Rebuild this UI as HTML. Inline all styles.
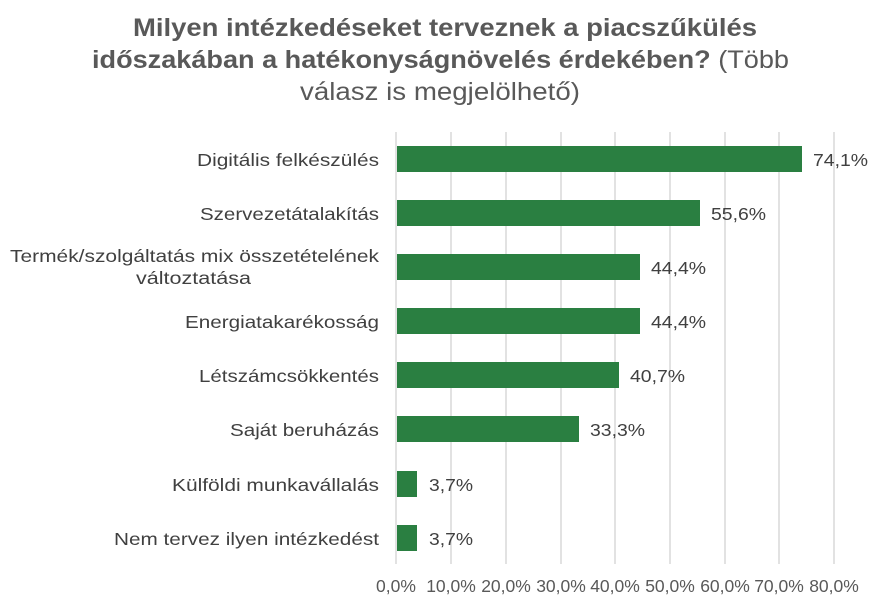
<!DOCTYPE html>
<html><head><meta charset="utf-8"><style>
body{margin:0;background:#fff;}
</style></head><body>
<svg width="879" height="605" xmlns="http://www.w3.org/2000/svg" font-family="Liberation Sans, Arial, sans-serif">
<rect width="879" height="605" fill="#fff"/>
<g font-size="25" fill="#595959">
<text x="133" y="36" font-weight="bold" textLength="624" lengthAdjust="spacingAndGlyphs">Milyen intézkedéseket terveznek a piacszűkülés</text>
<text x="92" y="68" textLength="697" lengthAdjust="spacingAndGlyphs"><tspan font-weight="bold">időszakában a hatékonyságnövelés érdekében?</tspan> (Több</text>
<text x="300" y="100" textLength="280" lengthAdjust="spacingAndGlyphs">válasz is megjelölhető)</text>
</g>
<g stroke="#d9d9d9" stroke-width="1.5">
<line x1="396" y1="132" x2="396" y2="564"/><line x1="451" y1="132" x2="451" y2="564"/>
<line x1="506" y1="132" x2="506" y2="564"/><line x1="561" y1="132" x2="561" y2="564"/>
<line x1="615" y1="132" x2="615" y2="564"/><line x1="670" y1="132" x2="670" y2="564"/>
<line x1="725" y1="132" x2="725" y2="564"/><line x1="779" y1="132" x2="779" y2="564"/>
<line x1="834" y1="132" x2="834" y2="564"/>
</g>
<g fill="#2a7f41">
<rect x="397" y="146" width="405" height="26"/>
<rect x="397" y="200" width="303" height="26"/>
<rect x="397" y="254" width="243" height="26"/>
<rect x="397" y="308" width="243" height="26"/>
<rect x="397" y="362" width="222" height="26"/>
<rect x="397" y="416" width="182" height="26"/>
<rect x="397" y="471" width="20" height="26"/>
<rect x="397" y="525" width="20" height="26"/>
</g>
<g font-size="17.5" fill="#404040">
<text x="813" y="166" textLength="55" lengthAdjust="spacingAndGlyphs">74,1%</text>
<text x="711" y="220" textLength="55" lengthAdjust="spacingAndGlyphs">55,6%</text>
<text x="651" y="274" textLength="55" lengthAdjust="spacingAndGlyphs">44,4%</text>
<text x="651" y="328" textLength="55" lengthAdjust="spacingAndGlyphs">44,4%</text>
<text x="630" y="382" textLength="55" lengthAdjust="spacingAndGlyphs">40,7%</text>
<text x="590" y="436" textLength="55" lengthAdjust="spacingAndGlyphs">33,3%</text>
<text x="429" y="491" textLength="44" lengthAdjust="spacingAndGlyphs">3,7%</text>
<text x="429" y="545" textLength="44" lengthAdjust="spacingAndGlyphs">3,7%</text>
</g>
<g font-size="17.5" fill="#404040">
<text x="197" y="166" textLength="182" lengthAdjust="spacingAndGlyphs">Digitális felkészülés</text>
<text x="200" y="220" textLength="179" lengthAdjust="spacingAndGlyphs">Szervezetátalakítás</text>
<text x="10" y="262" textLength="369" lengthAdjust="spacingAndGlyphs">Termék/szolgáltatás mix összetételének</text>
<text x="136" y="284" textLength="115" lengthAdjust="spacingAndGlyphs">változtatása</text>
<text x="185" y="328" textLength="194" lengthAdjust="spacingAndGlyphs">Energiatakarékosság</text>
<text x="199" y="382" textLength="180" lengthAdjust="spacingAndGlyphs">Létszámcsökkentés</text>
<text x="230" y="436" textLength="149" lengthAdjust="spacingAndGlyphs">Saját beruházás</text>
<text x="172" y="491" textLength="207" lengthAdjust="spacingAndGlyphs">Külföldi munkavállalás</text>
<text x="114" y="545" textLength="265" lengthAdjust="spacingAndGlyphs">Nem tervez ilyen intézkedést</text>
</g>
<g font-size="17.5" fill="#595959" text-anchor="middle">
<text x="396" y="592">0,0%</text><text x="451" y="592">10,0%</text><text x="506" y="592">20,0%</text>
<text x="561" y="592">30,0%</text><text x="615" y="592">40,0%</text><text x="670" y="592">50,0%</text>
<text x="725" y="592">60,0%</text><text x="779" y="592">70,0%</text><text x="834" y="592">80,0%</text>
</g>
</svg>
</body></html>
